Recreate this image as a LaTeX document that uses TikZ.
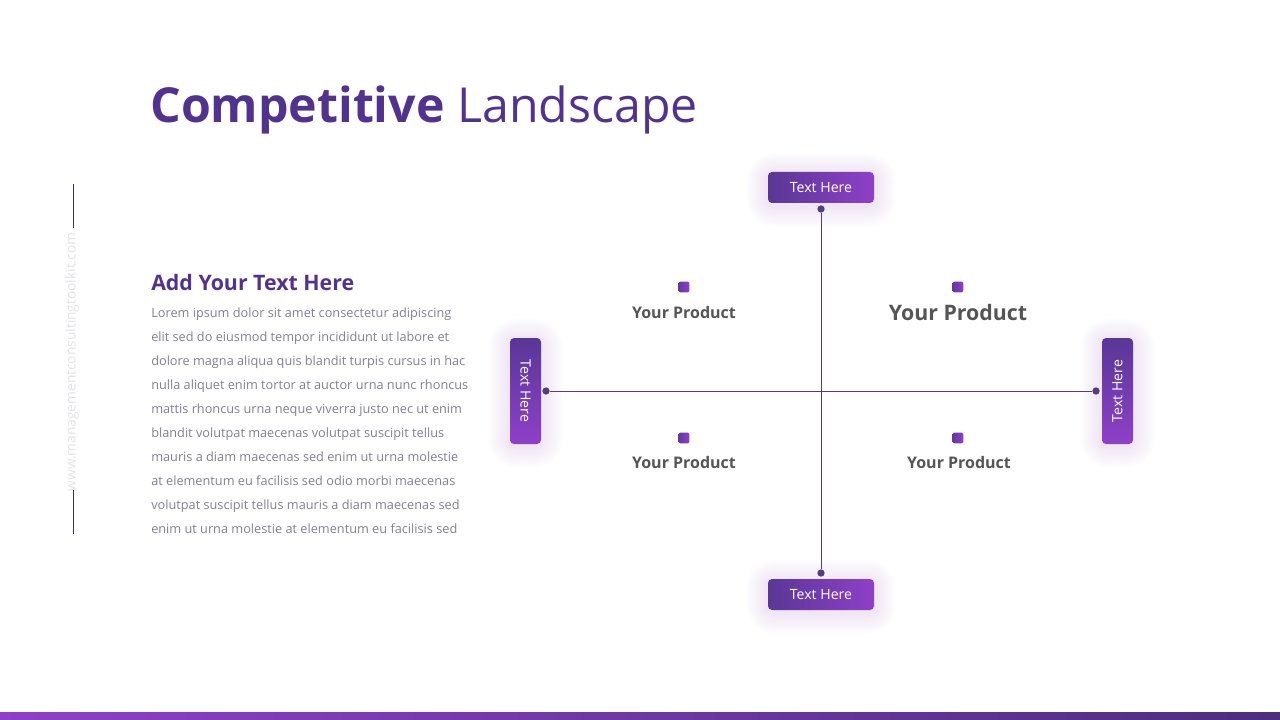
\documentclass[tikz,border=0pt]{standalone}
\usepackage{fontspec}
\setmainfont{Open Sans}
\usetikzlibrary{positioning}
\definecolor{titlepurple}{RGB}{82,50,143}
\definecolor{boxdark}{RGB}{90,55,150}
\definecolor{boxlight}{RGB}{142,64,200}
\definecolor{axisline}{RGB}{85,60,125}
\definecolor{bodygray}{RGB}{128,128,142}
\definecolor{prodgray}{RGB}{85,85,85}
\definecolor{glowc}{RGB}{200,150,240}
\definecolor{urlgray}{RGB}{228,228,232}
\definecolor{sideline}{RGB}{60,50,80}
\tikzset{
  hbox/.style={rounded corners=3pt, left color=boxdark, right color=boxlight, text=white,
    minimum width=79.5pt, minimum height=23.25pt, inner sep=0pt, font=\fontsize{10.6}{12}\selectfont},
  vbox/.style={rounded corners=3pt, top color=boxdark, bottom color=boxlight, text=white,
    minimum width=23.25pt, minimum height=79.5pt, inner sep=0pt, font=\fontsize{10.6}{12}\selectfont},
  enddot/.style={circle, fill=axisline, inner sep=0pt, minimum size=5.5pt},
  axis/.style={draw=axisline, line width=0.75pt},
  marker/.style={rounded corners=1pt, left color=boxdark!80!boxlight, right color=boxlight,
    minimum size=8pt, inner sep=0pt},
  prod/.style={text=prodgray, font=\bfseries\fontsize{12}{14}\selectfont, inner sep=0pt, anchor=base},
}
\begin{document}
\begin{tikzpicture}[x=0.75pt,y=-0.75pt]
\useasboundingbox (0,0) rectangle (1280,720);
\fill[white] (0,0) rectangle (1280,720);
% bottom bar
\shade[left color=boxlight, right color=boxdark!85!black] (0,712) rectangle (1280,720);
% title
\node[anchor=base west, inner sep=0pt, text=titlepurple, font=\fontsize{36.2}{40}\selectfont] (title) at (150,123)
  {\textbf{Competitive} Landscape};
% side url
\draw[sideline, line width=0.75pt] (73,184) -- (73,228);
\draw[sideline, line width=0.75pt] (73,490) -- (73,534);
\node[rotate=90, text=urlgray, font=\fontsize{10.3}{12}\selectfont, inner sep=0pt] (url) at (72,362) {www.managementconsultingtoolkit.com};
% left text
\node[anchor=base west, inner sep=0pt, text=titlepurple, font=\bfseries\fontsize{16}{19}\selectfont] (head) at (151,290) {Add Your Text Here};
\node[anchor=north west, inner sep=0pt, text=bodygray, align=left, font=\fontsize{9.55}{18}\selectfont] (body) at (151,308)
{Lorem ipsum dolor sit amet consectetur adipiscing\\
elit sed do eiusmod tempor incididunt ut labore et\\
dolore magna aliqua quis blandit turpis cursus in hac\\
nulla aliquet enim tortor at auctor urna nunc rhoncus\\
mattis rhoncus urna neque viverra justo nec ut enim\\
blandit volutpat maecenas volutpat suscipit tellus\\
mauris a diam maecenas sed enim ut urna molestie\\
at elementum eu facilisis sed odio morbi maecenas\\
volutpat suscipit tellus mauris a diam maecenas sed\\
enim ut urna molestie at elementum eu facilisis sed};
% glows
\foreach \cx/\cy/\w/\h in {821/190/53/15.5, 821/597/53/15.5, 525.5/393/15.5/53, 1117.5/393/15.5/53}{
  \foreach \i in {1,...,12}{
    \fill[glowc, opacity=0.018, rounded corners=4pt+\i*1.5pt] (\cx-\w-\i*1.8,\cy-\h-\i*1.8) rectangle (\cx+\w+\i*1.8,\cy+\h+\i*1.8);
  }
}
% axes
\node[enddot] (dt) at (821,209) {};
\node[enddot] (db) at (821,573) {};
\node[enddot] (dl) at (546,391) {};
\node[enddot] (dr) at (1096,391) {};
\draw[axis] (dt) -- (db);
\draw[axis] (dl) -- (dr);
% label boxes
\node[hbox] (top) at (821,187.5) {Text Here};
\node[hbox] (bot) at (821,594.5) {Text Here};
\node[vbox] (lft) at (525.5,391) {};
\node[rotate=-90, text=white, font=\fontsize{10.6}{12}\selectfont, inner sep=0pt] (lftt) at (lft.center) {Text Here};
\node[vbox] (rgt) at (1117.5,391) {};
\node[rotate=90, text=white, font=\fontsize{10.6}{12}\selectfont, inner sep=0pt] (rgtt) at (rgt.center) {Text Here};
% products
\node[marker] (m1) at (684,287) {};
\node[marker] (m2) at (958,287) {};
\node[marker] (m3) at (684,438) {};
\node[marker] (m4) at (958,438) {};
\node[prod] (p1) at (684,318) {Your Product};
\node[prod, font=\bfseries\fontsize{16}{19}\selectfont] (p2) at (958,320) {Your Product};
\node[prod] (p3) at (684,468) {Your Product};
\node[prod] (p4) at (959,468) {Your Product};
\end{tikzpicture}
\end{document}
